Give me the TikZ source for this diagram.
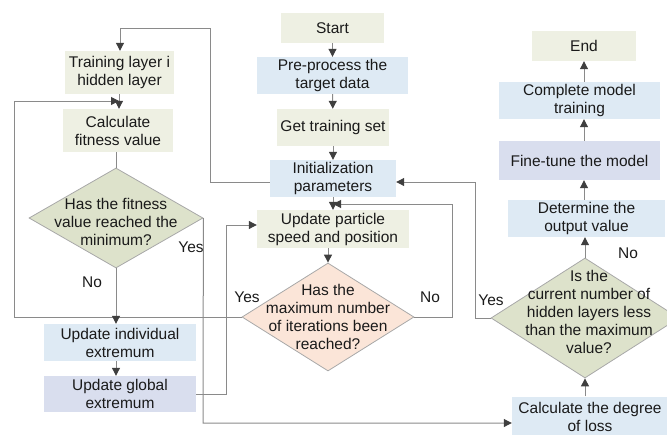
\documentclass[tikz,border=0pt]{standalone}
\usepackage{fontspec}
\setmainfont{Liberation Sans}
\usetikzlibrary{shapes.geometric,arrows.meta}

\definecolor{boxgreen}{HTML}{EEF0E3}
\definecolor{boxblue}{HTML}{DEEAF4}
\definecolor{boxlav}{HTML}{D9DEEE}
\definecolor{diagreen}{HTML}{DDE2CB}
\definecolor{diapeach}{HTML}{FBE5D8}
\definecolor{diaedge}{HTML}{A8A8A8}
\definecolor{linegray}{HTML}{8A8A8A}
\definecolor{tipgray}{HTML}{3F3F3F}
\definecolor{txt}{HTML}{1A1A1A}

\begin{document}
\begin{tikzpicture}[x=1pt,y=-1pt,
  every node/.style={font=\fontsize{15.5}{18}\selectfont, text=txt, align=center, inner sep=0pt},
  box/.style={rectangle, minimum width=#1},
  dia/.style={diamond, draw=diaedge, line width=0.8pt, inner sep=0pt},
  conn/.style={draw=linegray, line width=1pt},
  arr/.style={conn, -{Triangle[length=8pt,width=8pt,color=tipgray]}},
  lbl/.style={}
]
\useasboundingbox (0,0) rectangle (667,434);

% middle column
\node[box=103pt, fill=boxgreen, minimum height=30pt] (start) at (332.5,28) {Start};
\node[box=151pt, fill=boxblue, minimum height=37pt] (pre) at (332.5,75.5) {Pre-process the\\target data};
\node[box=112pt, fill=boxgreen, minimum height=37pt] (get) at (333,127.5) {Get training set};
\node[box=126pt, fill=boxblue, minimum height=37pt] (init) at (333,178.5) {Initialization\\parameters};
\node[box=152pt, fill=boxgreen, minimum height=38pt] (upd) at (333,229) {Update particle\\speed and position};
\node[dia, fill=diapeach, minimum width=172pt, minimum height=108pt] (iter) at (328,317) {};
\node (iterT) at (328,317) {Has the\\maximum number\\of iterations been\\reached?};

% left column
\node[box=109pt, fill=boxgreen, minimum height=43pt] (train) at (119.5,72.5) {Training layer i\\hidden layer};
\node[box=110pt, fill=boxgreen, minimum height=43pt] (calc) at (118,130.5) {Calculate\\fitness value};
\node[dia, fill=diagreen, minimum width=174pt, minimum height=100pt] (fit) at (116,218) {};
\node (fitT) at (116,222) {Has the fitness\\value reached the\\minimum?};
\node[box=152pt, fill=boxblue, minimum height=37pt] (indiv) at (120,342.5) {Update individual\\extremum};
\node[box=152pt, fill=boxlav, minimum height=36pt] (glob) at (120,394) {Update global\\extremum};

% right column
\node[box=104pt, fill=boxgreen, minimum height=30pt] (end) at (584,46) {End};
\node[box=161pt, fill=boxblue, minimum height=37pt] (compl) at (579.5,100.5) {Complete model\\training};
\node[box=161pt, fill=boxlav, minimum height=39pt] (tune) at (579.5,160.5) {Fine-tune the model};
\node[box=157pt, fill=boxblue, minimum height=37pt] (outv) at (586.5,218.5) {Determine the\\output value};
\node[dia, fill=diagreen, minimum width=188pt, minimum height=120pt] (hid) at (585,318) {};
\node (hidT) at (589,312) {Is the\\current number of\\hidden layers less\\than the maximum\\value?};
\node[box=156pt, fill=boxblue, minimum height=40pt] (loss) at (590,416.5) {Calculate the degree\\of loss};

% branch labels
\node[lbl] (fitYes) at (191,247) {Yes};
\node[lbl] (fitNo) at (92,282) {No};
\node[lbl] (iterYes) at (247,297) {Yes};
\node[lbl] (iterNo) at (430,297) {No};
\node[lbl] (hidYes) at (491,300) {Yes};
\node[lbl] (hidNo) at (628,253) {No};

% merge points on existing connectors
\coordinate (mergeA) at (333,204);
\coordinate (mergeB) at (119,101);

% main flow
\draw[arr] (start) -- (pre);
\draw[arr] (pre) -- (get);
\draw[arr] (get) -- (init);
\draw[arr] (init) -- (upd);
\draw[arr] (upd.south -| iter.north) -- (iter.north);
\draw[arr] (iter.east) -- (452,317) -- (452,204) -- (mergeA);

\draw[arr] ([yshift=-3.5pt]init.west) -- (210,182) -- (210,28) -- (120,28) -- (train.north -| 120,0);
\draw[arr] (train.south -| mergeB) -- (calc.north -| mergeB);
\draw[conn] (calc.south -| fit.north) -- (fit.north);
\draw[arr] (iter.west) -- (14,317) -- (14,101) -- (mergeB);
\draw[arr] (fit.south) -- (indiv.north -| fit.south);
\draw[arr] (indiv.south -| fit.south) -- (glob.north -| fit.south);
\draw[arr] (glob.east) -- (226,394) -- (226,225) -- (upd.west |- 0,225);
\draw[arr] (fit.east) -- (203,423) -- (loss.west |- 0,423);

\draw[arr] (loss.north -| hid.south) -- (hid.south);
\draw[arr] (hid.north) -- (outv.south -| hid.north);
\draw[arr] (hid.west) -- (475,318) -- (475,182) -- ([yshift=-3.5pt]init.east);
\draw[arr] (outv.north -| 584,0) -- (tune.south -| 584,0);
\draw[arr] (tune.north -| 584,0) -- (compl.south -| 584,0);
\draw[arr] (compl.north -| 584,0) -- (end.south -| 584,0);
\end{tikzpicture}
\end{document}
